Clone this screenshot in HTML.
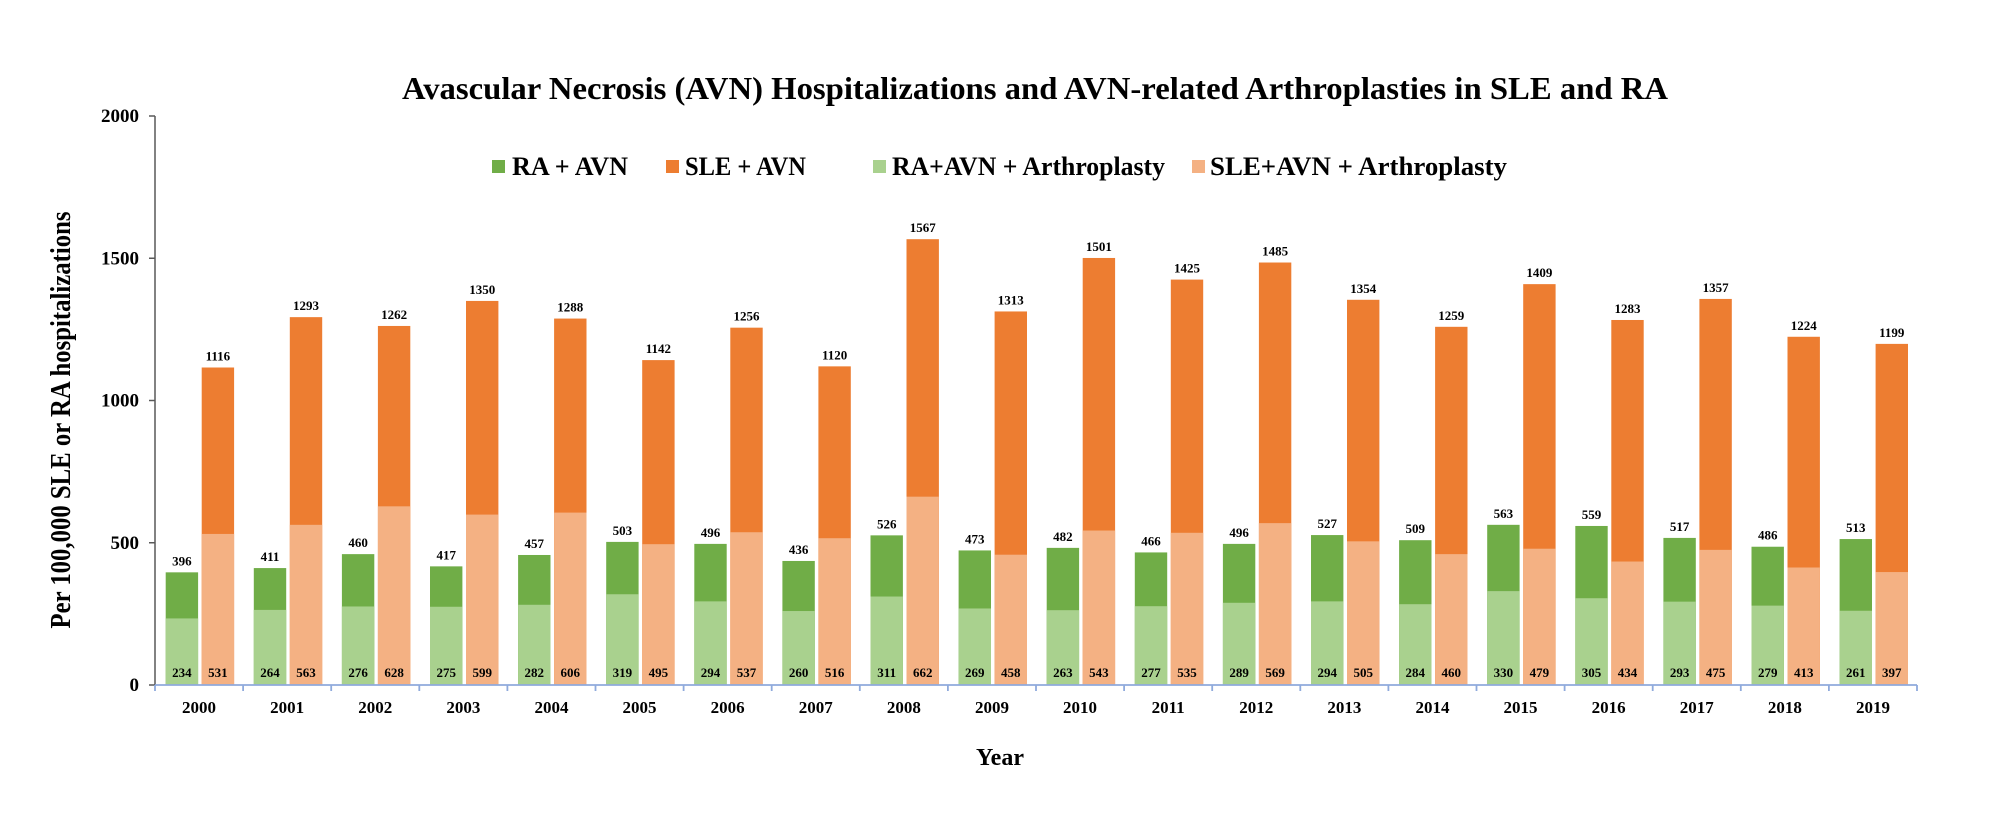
<!DOCTYPE html>
<html><head><meta charset="utf-8">
<style>
html,body{margin:0;padding:0;background:#fff;}
svg{display:block;font-family:"Liberation Serif",serif;font-weight:bold;}
</style></head>
<body>
<svg id="chart" width="2000" height="837" viewBox="0 0 2000 837" xmlns="http://www.w3.org/2000/svg">
<text x="402" y="99" font-size="32" textLength="1266" lengthAdjust="spacingAndGlyphs">Avascular Necrosis (AVN) Hospitalizations and AVN-related Arthroplasties in SLE and RA</text>
<g>
<rect x="492" y="160" width="13" height="13" fill="#70AD47"/>
<text x="512" y="175" font-size="26" textLength="116" lengthAdjust="spacingAndGlyphs">RA + AVN</text>
<rect x="666" y="160" width="13" height="13" fill="#ED7D31"/>
<text x="685" y="175" font-size="26" textLength="121" lengthAdjust="spacingAndGlyphs">SLE + AVN</text>
<rect x="873" y="160" width="13" height="13" fill="#A9D18E"/>
<text x="892" y="175" font-size="26" textLength="273" lengthAdjust="spacingAndGlyphs">RA+AVN + Arthroplasty</text>
<rect x="1192" y="160" width="13" height="13" fill="#F4B183"/>
<text x="1210" y="175" font-size="26" textLength="297" lengthAdjust="spacingAndGlyphs">SLE+AVN + Arthroplasty</text>
</g>
<text transform="translate(70,420) rotate(-90)" text-anchor="middle" font-size="29" textLength="417" lengthAdjust="spacingAndGlyphs">Per 100,000 SLE or RA hospitalizations</text>
<text x="1000" y="765" text-anchor="middle" font-size="24">Year</text>
<g id="plot"></g>
</svg>
<script>
const years = ["2000","2001","2002","2003","2004","2005","2006","2007","2008","2009","2010","2011","2012","2013","2014","2015","2016","2017","2018","2019"];
const raAvn = [396,411,460,417,457,503,496,436,526,473,482,466,496,527,509,563,559,517,486,513];
const raArth = [234,264,276,275,282,319,294,260,311,269,263,277,289,294,284,330,305,293,279,261];
const sleAvn = [1116,1293,1262,1350,1288,1142,1256,1120,1567,1313,1501,1425,1485,1354,1259,1409,1283,1357,1224,1199];
const sleArth = [531,563,628,599,606,495,537,516,662,458,543,535,569,505,460,479,434,475,413,397];
const yTicks = [0,500,1000,1500,2000];

const NS = "http://www.w3.org/2000/svg";
const g = document.getElementById('plot');
const x0 = 155, x1 = 1917, y0 = 685, yTop = 116, yMax = 2000;
const cw = (x1 - x0) / years.length;
const bw = 32.4;
function yS(v){ return y0 - v / yMax * (y0 - yTop); }
function xC(i){ return x0 + i * cw; }
function mk(tag, attrs){ const e = document.createElementNS(NS, tag); for (const k in attrs) e.setAttribute(k, attrs[k]); g.appendChild(e); return e; }

const ya = mk('line', {x1:x0, y1:yTop, x2:x0, y2:y0, stroke:'#595959', 'stroke-width':1.5});


yTicks.forEach(t => {
  const tk = mk('line', {x1:x0-6, y1:yS(t), x2:x0, y2:yS(t), stroke:'#595959', 'stroke-width':1.5});
  
  
  const lb = mk('text', {x:x0-16, y:yS(t)+6, 'text-anchor':'end', 'font-size':19});
  lb.textContent = t;
  
  
});

function bar(x, v, fill, name){
  const r = mk('rect', {x:x, y:yS(v), width:bw, height:y0 - yS(v), fill:fill});
  
  
}
function label(x, y, txt, name){
  const t = mk('text', {x:x, y:y, 'text-anchor':'middle', 'font-size':13});
  t.textContent = txt;
  
  
}

years.forEach((yr, i) => {
  const gx = xC(i) + 10.7, ox = xC(i) + 46.7;
  bar(gx, raAvn[i], '#70AD47', 'bar-ra-avn-' + yr);
  bar(gx, raArth[i], '#A9D18E', 'bar-ra-arthroplasty-' + yr);
  bar(ox, sleAvn[i], '#ED7D31', 'bar-sle-avn-' + yr);
  bar(ox, sleArth[i], '#F4B183', 'bar-sle-arthroplasty-' + yr);
  label(gx + bw/2, yS(raAvn[i]) - 7, raAvn[i], 'value-label-ra-avn');
  label(ox + bw/2, yS(sleAvn[i]) - 7, sleAvn[i], 'value-label-sle-avn');
  label(gx + bw/2, y0 - 8, raArth[i], 'value-label-ra-arthroplasty');
  label(ox + bw/2, y0 - 8, sleArth[i], 'value-label-sle-arthroplasty');
  const yl = mk('text', {x:xC(i) + cw/2, y:713, 'text-anchor':'middle', 'font-size':17});
  yl.textContent = yr;
  
  
});
const xa = mk('line', {x1:x0, y1:y0, x2:x1, y2:y0, stroke:'#8FAADC', 'stroke-width':1.8});


for (let i = 0; i <= years.length; i++){
  const tk = mk('line', {x1:xC(i), y1:y0, x2:xC(i), y2:y0+6, stroke:'#8FAADC', 'stroke-width':1.8});
  
  
}
</script>
</body></html>
